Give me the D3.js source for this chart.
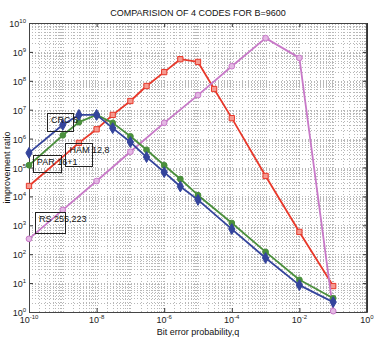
<!DOCTYPE html>
<html>
<head>
<meta charset="utf-8">
<script src="https://cdn.jsdelivr.net/npm/d3@7"></script>
<style>
  html, body { margin: 0; padding: 0; background: #fff; }
  svg { display: block; font-family: "Liberation Sans", Arial, sans-serif; }
</style>
</head>
<body>
<svg id="chart" width="381" height="341"></svg>
<script>
// Improvement ratio of four error-detecting codes versus bit error probability (B = 9600)
const titleText = "COMPARISION OF 4 CODES FOR B=9600";
const xLabel = "Bit error probability,q";
const yLabel = "improvement ratio";

const xTickExps = [-10, -8, -6, -4, -2, 0];
const yTickExps = [0, 1, 2, 3, 4, 5, 6, 7, 8, 9, 10];

// CRC 8
const crcQ   = [1e-10, 1e-9, 3e-9, 1e-8, 3e-8, 1e-7, 3e-7, 1e-6, 3e-6, 1e-5, 1e-4, 1e-3, 1e-2, 1e-1];
const crcVal = [3.2e5, 3.0e6, 6.6e6, 6.6e6, 2.3e6, 7.6e5, 2.3e5, 6.9e4, 2.2e4, 7.6e3, 7.4e2, 74, 8.5, 2.2];

// PAR 16+1
const parQ   = [1e-10, 1e-9, 3e-9, 1e-8, 3e-8, 1e-7, 3e-7, 1e-6, 3e-6, 1e-5, 1e-4, 1e-3, 1e-2, 1e-1];
const parVal = [1.2e5, 1.3e6, 3.7e6, 6.6e6, 3.5e6, 1.2e6, 4.1e5, 1.2e5, 4.0e4, 1.1e4, 1.2e3, 120, 13, 3.0];

// HAM 12,8
const hamQ   = [1e-10, 3e-9, 1e-8, 3e-8, 1e-7, 3e-7, 1e-6, 3e-6, 1e-5, 3e-5, 1e-4, 1e-3, 1e-2, 1e-1];
const hamVal = [2.3e4, 7.1e5, 2.1e6, 6.6e6, 2.0e7, 6.6e7, 2.0e8, 5.6e8, 4.5e8, 5.2e7, 5.1e6, 5.1e4, 5.9e2, 7.9];

// RS 255,223
const rsQ    = [1e-10, 1e-9, 1e-8, 1e-7, 1e-6, 1e-5, 1e-4, 1e-3, 1e-2, 1e-1];
const rsVal  = [340, 3.4e3, 3.4e4, 3.5e5, 3.5e6, 3.2e7, 3.2e8, 3.0e9, 6.2e8, 1.07];

const series = [
  { name: "HAM 12,8",   q: hamQ, v: hamVal, color: "#e8382a", fill: "#f59a90", marker: "square" },
  { name: "RS 255,223", q: rsQ,  v: rsVal,  color: "#c879c8", fill: "#e4b8e4", marker: "circle" },
  { name: "PAR 16+1",   q: parQ, v: parVal, color: "#4a8f3c", fill: "#4a8f3c", marker: "circle" },
  { name: "CRC 8",      q: crcQ, v: crcVal, color: "#34449c", fill: "#34449c", marker: "diamond" }
];

// labelled text boxes
const boxLabels = ["CRC 8", "PAR 16+1", "HAM 12,8", "RS 255,223"];
const boxQ  = [3.4e-10, 1.3e-10, 1.2e-9, 1.5e-10];
const boxV  = [7.7e6, 2.7e5, 7.0e5, 2.9e3];
const boxW  = [26, 28, 27, 30];
const boxH  = [18, 17, 23, 21];

const svg = d3.select("#chart");
const W = 381, H = 341;
const m = { left: 29, right: 14, top: 23, bottom: 29 };

const x = d3.scaleLog().domain([1e-10, 1]).range([m.left, W - m.right]);
const y = d3.scaleLog().domain([1, 1e10]).range([H - m.bottom, m.top]);

const x0 = x.range()[0], x1 = x.range()[1];
const y0 = y.range()[0], y1 = y.range()[1];

// dotted grid at every 1..9 x 10^k
const g = svg.append("g");
const minorX = [], minorY = [];
for (let e = -10; e < 0; e++) for (let k = 1; k < 10; k++) minorX.push(k * Math.pow(10, e));
for (let e = 0; e < 10; e++) for (let k = 1; k < 10; k++) minorY.push(k * Math.pow(10, e));

g.selectAll(".gx").data(minorX).join("line")
  .attr("x1", d => Math.round(x(d)) + 0.5).attr("x2", d => Math.round(x(d)) + 0.5)
  .attr("y1", y1).attr("y2", y0)
  .attr("stroke", "#b8b8b8").attr("stroke-width", 1).attr("stroke-dasharray", "1,2");
g.selectAll(".gy").data(minorY).join("line")
  .attr("y1", d => Math.round(y(d)) + 0.5).attr("y2", d => Math.round(y(d)) + 0.5)
  .attr("x1", x0).attr("x2", x1)
  .attr("stroke", "#b8b8b8").attr("stroke-width", 1).attr("stroke-dasharray", "1,2");

// axes (ticks pointing inward, box on all sides)
const xTicks = xTickExps.map(e => Math.pow(10, e));
const yTicks = yTickExps.map(e => Math.pow(10, e));
const fmtNone = () => "";

svg.append("g").attr("transform", `translate(0,${y0})`)
  .call(d3.axisBottom(x).tickValues(xTicks).tickSizeInner(-4).tickSizeOuter(0).tickFormat(fmtNone));
svg.append("g").attr("transform", `translate(0,${y1})`)
  .call(d3.axisTop(x).tickValues(xTicks).tickSizeInner(-4).tickSizeOuter(0).tickFormat(fmtNone));
svg.append("g").attr("transform", `translate(${x0},0)`)
  .call(d3.axisLeft(y).tickValues(yTicks).tickSizeInner(-4).tickSizeOuter(0).tickFormat(fmtNone));
svg.append("g").attr("transform", `translate(${x1},0)`)
  .call(d3.axisRight(y).tickValues(yTicks).tickSizeInner(-4).tickSizeOuter(0).tickFormat(fmtNone));
svg.selectAll(".domain").attr("stroke", "#333");
svg.selectAll(".tick line").attr("stroke", "#333");
svg.selectAll(".tick text").remove();

svg.append("rect").attr("x", x0 + 0.5).attr("y", y1 + 0.5)
  .attr("width", x1 - x0 - 1).attr("height", y0 - y1)
  .attr("fill", "none").attr("stroke", "#444").attr("stroke-width", 1);

// tick labels with superscript exponents
const tl = svg.append("g").attr("font-size", 9).attr("fill", "#222");
xTickExps.forEach(e => {
  const t = tl.append("text").attr("x", x(Math.pow(10, e))).attr("y", y0 + 11)
    .attr("text-anchor", "middle");
  t.append("tspan").text("10");
  t.append("tspan").attr("dy", -4).attr("font-size", 6).text(e);
});
yTickExps.forEach(e => {
  const t = tl.append("text").attr("x", x0 - 3).attr("y", y(Math.pow(10, e)) + 4)
    .attr("text-anchor", "end");
  t.append("tspan").text("10");
  t.append("tspan").attr("dy", -4).attr("font-size", 6).text(e);
});

// title and axis labels
svg.append("text").attr("x", (x0 + x1) / 2).attr("y", 16).attr("text-anchor", "middle")
  .attr("font-size", 9).attr("fill", "#111").text(titleText);
svg.append("text").attr("x", (x0 + x1) / 2).attr("y", 335).attr("text-anchor", "middle")
  .attr("font-size", 9).attr("fill", "#111").text(xLabel);
svg.append("text").attr("transform", `translate(10,${(y0 + y1) / 2}) rotate(-90)`)
  .attr("text-anchor", "middle").attr("font-size", 9).attr("fill", "#111").text(yLabel);

// series lines and markers
const line = d3.line().x(d => x(d[0])).y(d => y(d[1]));
const sym = { square: d3.symbolSquare, circle: d3.symbolCircle, diamond: d3.symbolDiamond };
const symSize = { square: 28, circle: 26, diamond: 34 };
series.forEach(s => {
  const pts = s.q.map((q, i) => [q, s.v[i]]);
  svg.append("path").datum(pts).attr("d", line)
    .attr("fill", "none").attr("stroke", s.color).attr("stroke-width", 1.8)
    .attr("stroke-linejoin", "round");
  svg.append("g").selectAll("path").data(pts).join("path")
    .attr("transform", d => `translate(${x(d[0])},${y(d[1])})`)
    .attr("d", d3.symbol().type(sym[s.marker]).size(symSize[s.marker]))
    .attr("fill", s.fill).attr("stroke", s.color).attr("stroke-width", 1);
});

// boxed labels; text runs past the box edge as drawn
const bl = svg.append("g");
boxLabels.forEach((t, i) => {
  const bx = x(boxQ[i]), by = y(boxV[i]);
  bl.append("rect").attr("x", Math.round(bx) + 0.5).attr("y", Math.round(by) + 0.5)
    .attr("width", boxW[i]).attr("height", boxH[i])
    .attr("fill", "none").attr("stroke", "#222").attr("stroke-width", 1);
  bl.append("text").attr("x", bx + 4).attr("y", by + 10)
    .attr("font-size", 9).attr("fill", "#111").text(t);
});
</script>
</body>
</html>
